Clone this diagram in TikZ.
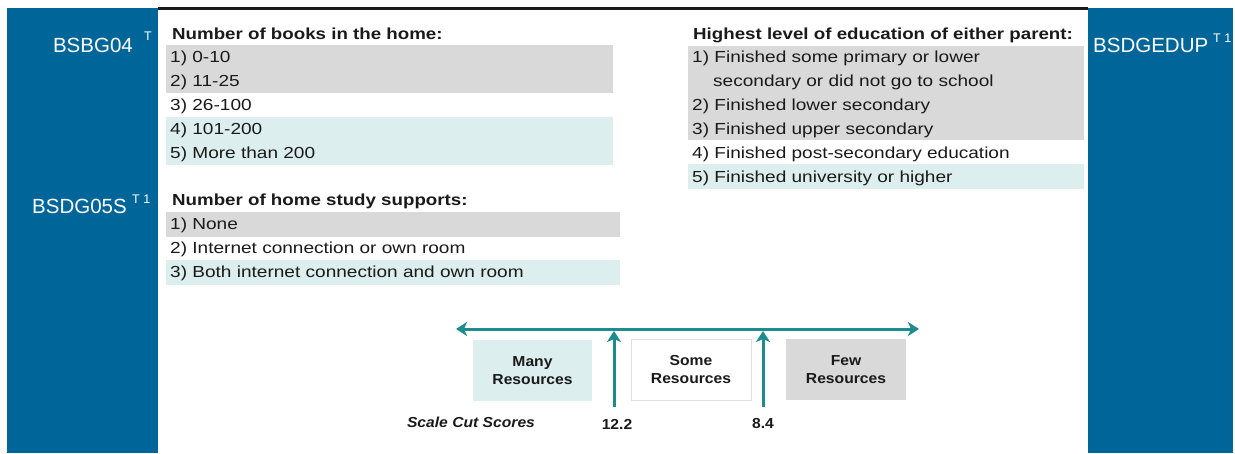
\documentclass[tikz,border=0pt]{standalone}
\usepackage{fontspec}
\setmainfont{Liberation Sans}
\newfontfamily\bodyf[FakeStretch=1.19]{Liberation Sans}
\newfontfamily\headf[FakeStretch=1.17]{Liberation Sans Bold}
\newfontfamily\boxf[FakeStretch=1.08]{Liberation Sans Bold}
\newfontfamily\cutf[FakeStretch=1.08]{Liberation Sans Bold Italic}
\usetikzlibrary{arrows.meta}
\definecolor{panel}{HTML}{00669A}
\definecolor{band}{HTML}{D9D9D9}
\definecolor{cyanband}{HTML}{DDEEEE}
\definecolor{teal2}{HTML}{1E8C8C}
\definecolor{ink}{HTML}{1A1A1A}
\begin{document}
\begin{tikzpicture}[x=1pt,y=-1pt,
 item/.style={anchor=base west,inner sep=0pt,text=ink,font=\bodyf\fontsize{16}{19}\selectfont},
 head/.style={anchor=base west,inner sep=0pt,text=ink,font=\headf\fontsize{16}{19}\selectfont},
 lab/.style={anchor=base east,inner sep=0pt,text=white,font=\fontsize{20.5}{24}\selectfont},
 sup/.style={anchor=base west,inner sep=0pt,text=white,font=\fontsize{12.5}{14}\selectfont},
 res/.style={minimum width=119pt,minimum height=61pt,inner sep=0pt,align=center,text=ink,font=\boxf\fontsize{14.5}{18}\selectfont},
 cut/.style={line width=3pt,draw=teal2,-{Stealth[length=11pt,width=14pt,inset=3pt]}},
 num/.style={inner sep=0pt,text=ink,font=\boxf\fontsize{14.5}{18}\selectfont}
]
\useasboundingbox (0,0) rectangle (1235,453);
% panels
\fill[panel] (7,8) rectangle (158,453);
\fill[panel] (1088,8) rectangle (1233,453);
\draw[line width=3pt, ink] (158,8.5) -- (1088,8.5);
% bands
\fill[band] (166,45) rectangle (613,93);
\fill[cyanband] (166,117) rectangle (613,165);
\fill[band] (166,211.5) rectangle (620,236.5);
\fill[cyanband] (166,259.5) rectangle (620,284.5);
\fill[band] (688,45.5) rectangle (1084,140);
\fill[cyanband] (688,164) rectangle (1084,188.5);
% labels
\node[lab] (l1) at (133,52) {BSBG04};
\node[sup] (s1) at (144,40) {T};
\node[lab] (l2) at (127,213) {BSDG05S};
\node[sup] (s2) at (132,203) {T 1};
\node[lab,anchor=base west] (l3) at (1093,52) {BSDGEDUP};
\node[sup] (s3) at (1213,42) {T 1};
% books
\node[head] (hb) at (172,39) {Number of books in the home:};
\node[item] (b1) at (170,62) {1) 0-10};
\node[item] (b2) at (170,86) {2) 11-25};
\node[item] (b3) at (170,110) {3) 26-100};
\node[item] (b4) at (170,134) {4) 101-200};
\node[item] (b5) at (170,158) {5) More than 200};
% supports
\node[head] (hs) at (172,205) {Number of home study supports:};
\node[item] (s1i) at (170,229) {1) None};
\node[item] (s2i) at (170,253) {2) Internet connection or own room};
\node[item] (s3i) at (170,277) {3) Both internet connection and own room};
% education
\node[head] (he) at (693,39) {Highest level of education of either parent:};
\node[item] (e1) at (692,62) {1) Finished some primary or lower};
\node[item] (e1b) at (713,86) {secondary or did not go to school};
\node[item] (e2) at (692,110) {2) Finished lower secondary};
\node[item] (e3) at (692,134) {3) Finished upper secondary};
\node[item] (e4) at (692,158) {4) Finished post-secondary education};
\node[item] (e5) at (692,182) {5) Finished university or higher};
% scale
\coordinate (L) at (456,329);
\coordinate (R) at (919,329);
\draw[line width=3pt, draw=teal2, {Stealth[length=11pt,width=14pt,inset=3pt]}-{Stealth[length=11pt,width=14pt,inset=3pt]}] (L) -- (R);
\coordinate (c1) at (614,407); \coordinate (t1) at (614,331);
\coordinate (c2) at (763,407); \coordinate (t2) at (763,331);
\draw[cut] (c1) -- (t1);
\draw[cut] (c2) -- (t2);
\node[res, fill=cyanband] (many) at (532.5,370.5) {Many\\Resources};
\node[res, minimum width=120pt, draw=black!12, line width=1pt] (some) at (691,369.5) {Some\\Resources};
\node[res, minimum width=120pt, fill=band] (few) at (846,369.5) {Few\\Resources};
\node[num, font=\cutf\fontsize{14.5}{18}\selectfont] (scs) at (471,422) {Scale Cut Scores};
\node[num] (n1) at (617,424) {12.2};
\node[num] (n2) at (763,424) {8.4};
\end{tikzpicture}
\end{document}
